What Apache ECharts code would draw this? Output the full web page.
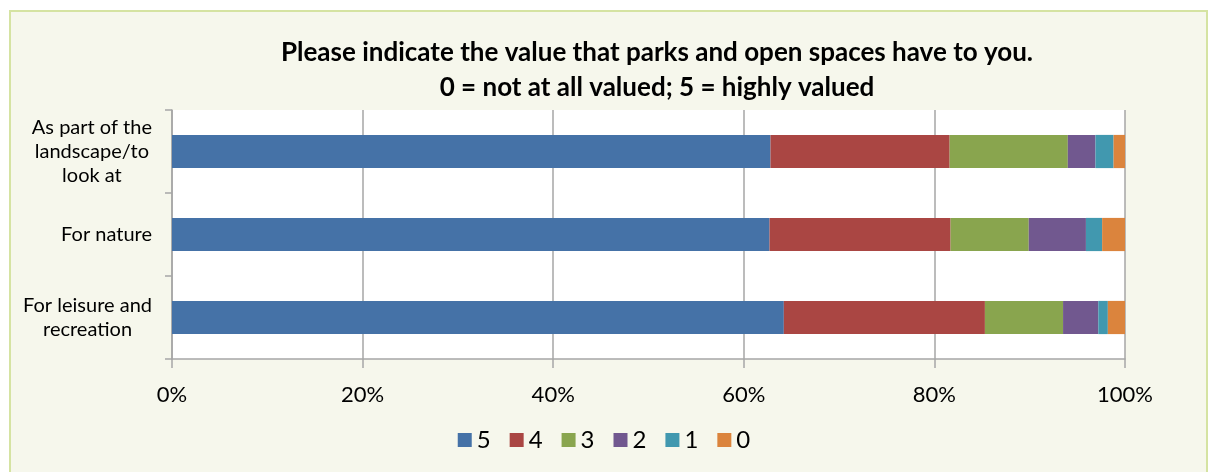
<!DOCTYPE html>
<html>
<head>
<meta charset="utf-8">
<script src="https://cdn.jsdelivr.net/npm/echarts@6/dist/echarts.min.js"></script>
<style>
  html, body { margin: 0; padding: 0; background: #ffffff; }
  #frame {
    position: absolute; left: 9px; top: 10px; width: 1195px; height: 470px;
    background: #f6f7ec; border: 2px solid #d5e3a2;
  }
  #chart { position: absolute; left: 0; top: 0; width: 1208px; height: 472px; }
</style>
</head>
<body>
<div id="frame"></div>
<div id="chart"></div>
<script>
// Survey question and answer scale
const titleLines = [
  'Please indicate the value that parks and open spaces have to you.',
  '0 = not at all valued; 5 = highly valued'
];
const categories = [
  'As part of the\nlandscape/to\nlook at',
  'For nature',
  'For leisure and\nrecreation'
];
const ratingNames = ['5', '4', '3', '2', '1', '0'];
const ratingColors = ['#4572A7', '#AA4643', '#89A54E', '#71588F', '#4198AF', '#DB843D'];

// Share of respondents (%) per rating, in category order
const rating5 = [62.8, 62.7, 64.2];
const rating4 = [18.8, 19.0, 21.1];
const rating3 = [12.4, 8.2, 8.2];
const rating2 = [2.9, 6.0, 3.7];
const rating1 = [1.9, 1.7, 1.0];
const rating0 = [1.2, 2.4, 1.8];
const ratingValues = [rating5, rating4, rating3, rating2, rating1, rating0];

const xTicks = [0, 20, 40, 60, 80, 100];

const fontFamily = 'Lato, "Open Sans", sans-serif';
const gray = '#a6a6a6';

const chart = echarts.init(document.getElementById('chart'));

chart.setOption({
  backgroundColor: 'transparent',
  animation: false,
  textStyle: { fontFamily: fontFamily, color: '#000' },
  title: {
    text: titleLines.join('\n'),
    left: 652,
    textAlign: 'center',
    top: 30,
    textStyle: {
      fontFamily: fontFamily,
      fontSize: 26,
      fontWeight: 'bold',
      color: '#000',
      lineHeight: 35
    }
  },
  legend: {
    data: ratingNames,
    left: 'center',
    top: 423,
    itemWidth: 14,
    itemHeight: 14,
    itemGap: 19,
    icon: 'rect',
    textStyle: { fontFamily: fontFamily, fontSize: 24, color: '#000' }
  },
  grid: {
    left: 172,
    top: 110,
    width: 953,
    height: 249,
    show: true,
    backgroundColor: '#ffffff',
    borderWidth: 0
  },
  xAxis: {
    type: 'value',
    min: xTicks[0],
    max: xTicks[xTicks.length - 1],
    interval: 20,
    axisLine: { show: true, lineStyle: { color: gray, width: 1.5 } },
    axisTick: { show: true, length: 9, lineStyle: { color: gray, width: 1.5 } },
    splitLine: { show: true, lineStyle: { color: gray, width: 1.5 } },
    axisLabel: {
      formatter: '{value}%',
      fontSize: 22,
      color: '#000',
      margin: 25,
      fontFamily: fontFamily
    }
  },
  yAxis: {
    type: 'category',
    inverse: true,
    data: categories,
    axisLine: { show: true, lineStyle: { color: gray, width: 1.5 } },
    axisTick: { show: true, length: 7, lineStyle: { color: gray, width: 1.5 } },
    axisLabel: {
      margin: 20,
      fontSize: 20,
      lineHeight: 24,
      color: '#000',
      fontFamily: fontFamily,
      formatter: function (val) {
        return val.split('\n').map(function (s) { return '{c|' + s + '}'; }).join('\n');
      },
      rich: {
        c: { align: 'center', fontSize: 20, lineHeight: 24, fontFamily: fontFamily, color: '#000' }
      }
    }
  },
  series: ratingNames.map(function (name, i) {
    return {
      name: name,
      type: 'bar',
      stack: 'total',
      barCategoryGap: '60%',
      itemStyle: { color: ratingColors[i] },
      data: ratingValues[i]
    };
  })
});
</script>
</body>
</html>
